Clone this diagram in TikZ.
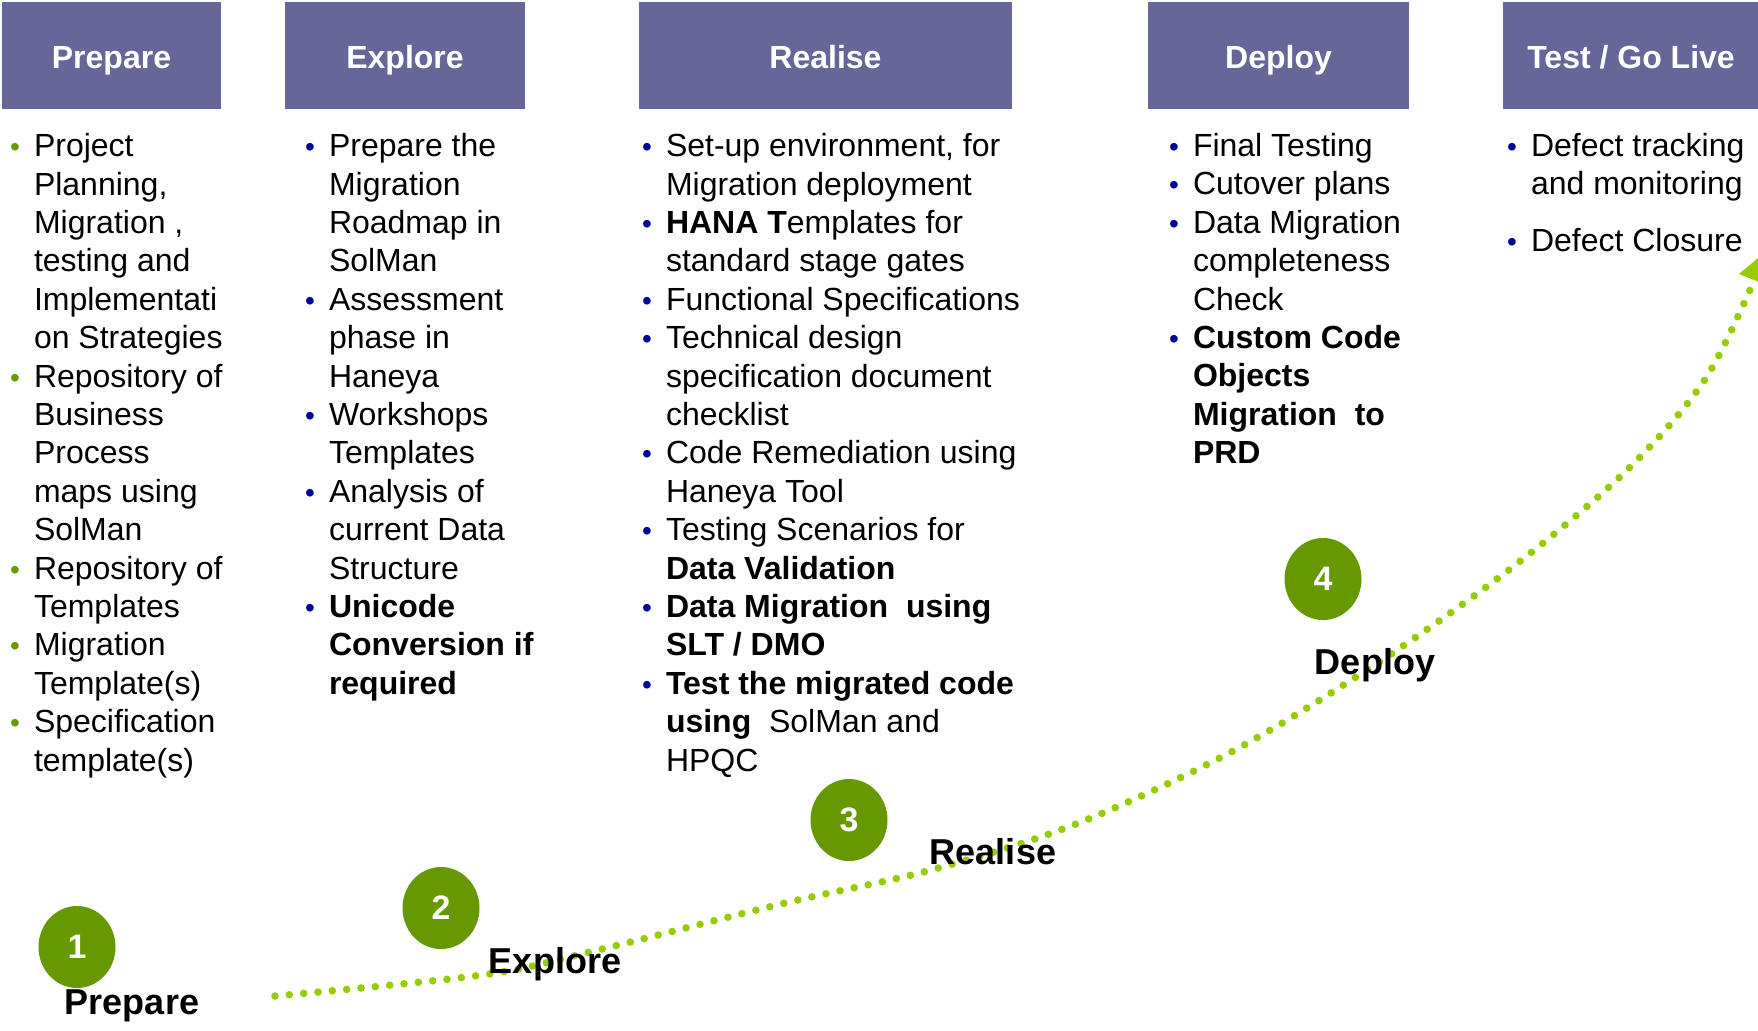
\documentclass[tikz,border=0pt]{standalone}
\usepackage{fontspec}
\setmainfont{Liberation Sans}
\usetikzlibrary{shapes.geometric}
\definecolor{hdr}{RGB}{102,102,153}
\definecolor{circg}{RGB}{102,153,0}
\definecolor{dotg}{RGB}{153,204,0}
\definecolor{bulb}{RGB}{0,0,153}
\newcommand\bulG{\makebox[11.3pt][l]{\hspace*{-0.6pt}\textcolor{circg}{\fontsize{14}{14}\selectfont •}}}
\newcommand\bulB{\makebox[11.3pt][l]{\hspace*{-0.6pt}\textcolor{bulb}{\fontsize{14}{14}\selectfont •}}}
\newcommand\ind{\hspace*{11.3pt}}
\begin{document}
\begin{tikzpicture}[x=0.5pt,y=-0.5pt,
  hdrbox/.style={fill=hdr, draw=none, inner sep=0pt},
  hdrtext/.style={anchor=base, inner sep=0pt, text=white, font=\bfseries\fontsize{16}{19}\selectfont},
  body/.style={anchor=north west, align=left, inner sep=0pt, font=\fontsize{16}{19.2}\selectfont},
  numc/.style={ellipse, fill=circg, draw=none, inner sep=0pt, minimum width=38.5pt, minimum height=41pt, text=white, font=\bfseries\fontsize{17}{17}\selectfont},
  lbl/.style={inner sep=0pt, text=black, font=\bfseries\fontsize{18}{18}\selectfont},
  dotline/.style={draw=dotg, line width=3.8pt, line cap=round, dash pattern=on 0pt off 7.2pt}
]
\useasboundingbox (0,0) rectangle (1758,1030);
\clip (0,0) rectangle (1758,1030);

% header boxes
\newcommand\hdrnode[4]{%
  \node[hdrbox, minimum width={(#3-#2)*0.5pt}, minimum height=53.5pt] (#1) at ({(#2+#3)/2},55.5) {};
  \node[hdrtext] (#1t) at ({(#2+#3)/2},68.5) {#4};}
\hdrnode{h1}{2}{221}{Prepare}
\hdrnode{h2}{285}{525}{Explore}
\hdrnode{h3}{639}{1012}{Realise}
\hdrnode{h4}{1148}{1409}{Deploy}
\node[hdrbox, minimum width={(1770-1503)*0.5pt}, minimum height=53.5pt] (h5) at ({(1503+1770)/2},55.5) {};
\node[hdrtext] (h5t) at (1631,68.5) {Test / Go Live};

% columns
\node[body] (c1) at (11,133) {%
\bulG Project\\ \ind Planning,\\ \ind Migration ,\\ \ind testing and\\ \ind Implementati\\ \ind on Strategies\\
\bulG Repository of\\ \ind Business\\ \ind Process\\ \ind maps using\\ \ind SolMan\\
\bulG Repository of\\ \ind Templates\\
\bulG Migration\\ \ind Template(s)\\
\bulG Specification\\ \ind template(s)};

\node[body] (c2) at (306,133) {%
\bulB Prepare the\\ \ind Migration\\ \ind Roadmap in\\ \ind SolMan\\
\bulB Assessment\\ \ind phase in\\ \ind Haneya\\
\bulB Workshops\\ \ind Templates\\
\bulB Analysis of\\ \ind current Data\\ \ind Structure\\
\bulB \textbf{Unicode}\\ \ind \textbf{Conversion if}\\ \ind \textbf{required}};

\node[body] (c3) at (643,133) {%
\bulB Set-up environment, for\\ \ind Migration deployment\\
\bulB \textbf{HANA T}emplates for\\ \ind standard stage gates\\
\bulB Functional Specifications\\
\bulB Technical design\\ \ind specification document\\ \ind checklist\\
\bulB Code Remediation using\\ \ind Haneya Tool\\
\bulB Testing Scenarios for\\ \ind \textbf{Data Validation}\\
\bulB \textbf{Data Migration\ \ using}\\ \ind \textbf{SLT / DMO}\\
\bulB \textbf{Test the migrated code}\\ \ind \textbf{using}\ \ SolMan and\\ \ind HPQC};

\node[body] (c4) at (1170,133) {%
\bulB Final Testing\\
\bulB Cutover plans\\
\bulB Data Migration\\ \ind completeness\\ \ind Check\\
\bulB \textbf{Custom Code}\\ \ind \textbf{Objects}\\ \ind \textbf{Migration\ \ to}\\ \ind \textbf{PRD}};

\node[body] (c5) at (1508,133) {%
\bulB Defect tracking\\ \ind and monitoring\\[9pt]
\bulB Defect Closure};

% dotted curve
\coordinate (p0) at (275,996);
\coordinate (tip) at (1758,258);
\draw[dotline] plot[smooth, tension=0.55] coordinates {(275,996) (482,975) (594,951) (785,903) (931,870) (1076,824) (1233,751) (1379,662) (1514,566) (1626,471) (1704,381) (1752,285)};
\fill[dotg] (tip) -- (1739,274) -- (1764,284) -- cycle;

% circles
\node[numc] (n1) at (77,947) {1};
\node[numc] (n2) at (441,908) {2};
\node[numc] (n3) at (849,820) {3};
\node[numc] (n4) at (1323,579) {4};

% labels
\node[lbl] (l1) at (132,1006) {Prepare};
\node[lbl] (l2) at (555,964) {Explore};
\node[lbl] (l3) at (993,852) {Realise};
\node[lbl] (l4) at (1375,665) {Deploy};
\end{tikzpicture}
\end{document}
